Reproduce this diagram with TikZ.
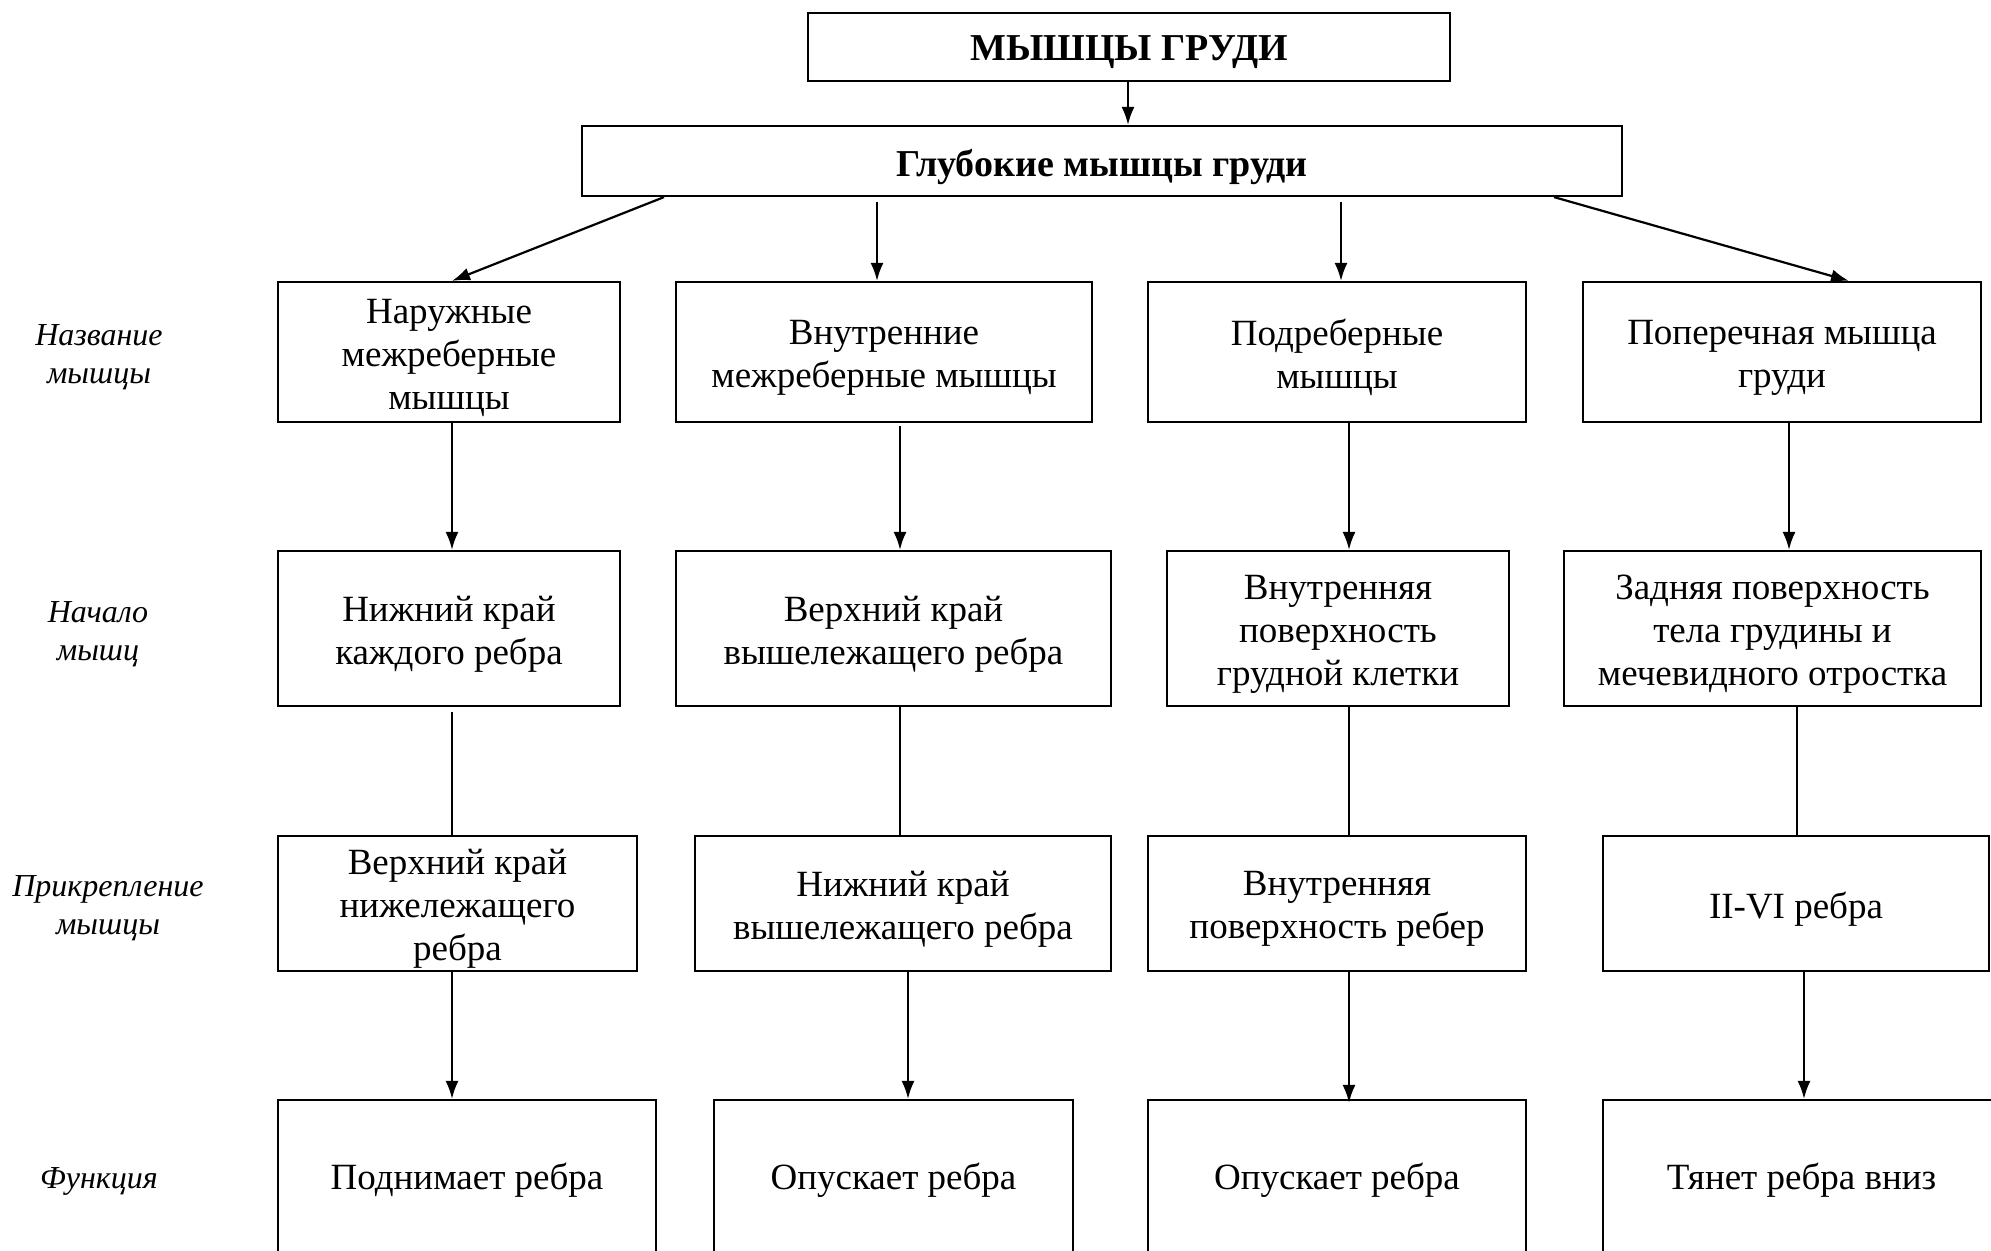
\documentclass[tikz,border=0pt]{standalone}
\usepackage{fontspec}
\setmainfont{Liberation Serif}
\usetikzlibrary{arrows.meta}

\tikzset{
  cell/.style={draw, line width=1.1pt, inner sep=0pt},
  txt/.style={align=center, inner sep=0pt, yshift=-2.8pt,
    font=\fontsize{18.5pt}{21.5pt}\selectfont},
  lowtxt/.style={txt, yshift=1.5pt},
  titletxt/.style={txt, font=\fontsize{19pt}{22pt}\selectfont\bfseries},
  rowlabel/.style={align=center, inner sep=0pt,
    font=\fontsize{16pt}{19pt}\selectfont\itshape},
  arr/.style={line width=1.1pt, -{Latex[length=9pt,width=6.5pt]}},
  link/.style={line width=0.8pt},
  wd/.style={minimum width=#1pt},
  ht/.style={minimum height=#1pt}
}

\begin{document}
\begin{tikzpicture}[x=0.5pt, y=-0.5pt]
  \useasboundingbox (0,0) rectangle (1991,1250);
  \clip (0,0) rectangle (1991,1250);

  % headings
  \node[cell, wd=321, ht=34, label={[titletxt]center:МЫШЦЫ ГРУДИ}] (top) at (1129,47) {};
  \node[cell, wd=520, ht=35, label={[titletxt]center:Глубокие мышцы груди}] (deep) at (1102,161) {};

  % row 1: muscle names
  \node[cell, wd=171, ht=70, label={[txt]center:{Наружные\\межреберные\\мышцы}}] (a1) at (449,352) {};
  \node[cell, wd=208, ht=70, label={[txt]center:{Внутренние\\межреберные мышцы}}] (b1) at (884,352) {};
  \node[cell, wd=189, ht=70, label={[txt]center:{Подреберные\\мышцы}}] (c1) at (1337,352) {};
  \node[cell, wd=199, ht=70, label={[txt]center:{Поперечная мышца\\груди}}] (d1) at (1782,352) {};

  % row 2: origin
  \node[cell, wd=171, ht=77.5, label={[txt]center:{Нижний край\\каждого ребра}}] (a2) at (449,628.5) {};
  \node[cell, wd=217.5, ht=77.5, label={[txt]center:{Верхний край\\вышележащего ребра}}] (b2) at (893.5,628.5) {};
  \node[cell, wd=171, ht=77.5, label={[txt]center:{Внутренняя\\поверхность\\грудной клетки}}] (c2) at (1338,628.5) {};
  \node[cell, wd=208.5, ht=77.5, label={[txt]center:{Задняя поверхность\\тела грудины и\\мечевидного отростка}}] (d2) at (1772.5,628.5) {};

  % row 3: insertion
  \node[cell, wd=179.5, ht=67.5, label={[txt]center:{Верхний край\\нижележащего\\ребра}}] (a3) at (457.5,903.5) {};
  \node[cell, wd=208, ht=67.5, label={[txt]center:{Нижний край\\вышележащего ребра}}] (b3) at (903,903.5) {};
  \node[cell, wd=189, ht=67.5, label={[txt]center:{Внутренняя\\поверхность ребер}}] (c3) at (1337,903.5) {};
  \node[cell, wd=193, ht=67.5, label={[txt]center:{II-VI ребра}}] (d3) at (1796,903.5) {};

  % row 4: function
  \node[cell, wd=189, ht=78, label={[lowtxt]center:{Поднимает ребра}}] (a4) at (467,1178) {};
  \node[cell, wd=179.5, ht=78, label={[lowtxt]center:{Опускает ребра}}] (b4) at (893.5,1178) {};
  \node[cell, wd=189, ht=78, label={[lowtxt]center:{Опускает ребра}}] (c4) at (1337,1178) {};
  \node[cell, wd=198.5, ht=78, label={[lowtxt]center:{Тянет ребра вниз}}] (d4) at (1801.5,1178) {};

  % row labels
  \node[rowlabel] (l1) at (99,357)  {Название\\мышцы};
  \node[rowlabel] (l2) at (98,634)  {Начало\\мышц};
  \node[rowlabel] (l3) at (108,908) {Прикрепление\\мышцы};
  \node[rowlabel] (l4) at (99,1181) {Функция};

  % connector columns
  \coordinate (xt) at (1128,0);
  \coordinate (xa) at (452,0);
  \coordinate (xb0) at (877,0);
  \coordinate (xb1) at (900,0);
  \coordinate (xb3) at (908,0);
  \coordinate (xc0) at (1341,0);
  \coordinate (xc1) at (1349,0);
  \coordinate (xd0) at (1554,0);
  \coordinate (xd1) at (1789,0);
  \coordinate (xd2) at (1797,0);
  \coordinate (xd3) at (1804,0);
  \coordinate (xa0) at (664,0);
  \coordinate (xdt) at (1849,0);

  % heading to group
  \draw[arr] (top.south -| xt) -- (deep.north -| xt);

  % group to muscle names
  \draw[arr] (deep.south -| xa0) -- (a1.north -| xa);
  \draw[arr] ([yshift=-2.5pt]deep.south -| xb0) -- (b1.north -| xb0);
  \draw[arr] ([yshift=-2.5pt]deep.south -| xc0) -- (c1.north -| xc0);
  \draw[arr] (deep.south -| xd0) -- (d1.north -| xdt);

  % names to origins
  \draw[arr] (a1.south -| xa) -- (a2.north -| xa);
  \draw[arr] ([yshift=-1.5pt]b1.south -| xb1) -- (b2.north -| xb1);
  \draw[arr] (c1.south -| xc1) -- (c2.north -| xc1);
  \draw[arr] (d1.south -| xd1) -- (d2.north -| xd1);

  % origins to insertions
  \draw[link] ([yshift=-2.5pt]a2.south -| xa) -- (a3.north -| xa);
  \draw[link] (b2.south -| xb1) -- (b3.north -| xb1);
  \draw[link] (c2.south -| xc1) -- (c3.north -| xc1);
  \draw[link] (d2.south -| xd2) -- (d3.north -| xd2);

  % insertions to functions
  \draw[arr] (a3.south -| xa) -- (a4.north -| xa);
  \draw[arr] (b3.south -| xb3) -- (b4.north -| xb3);
  \draw[arr] (c3.south -| xc1) -- ([yshift=-2pt]c4.north -| xc1);
  \draw[arr] (d3.south -| xd3) -- (d4.north -| xd3);
\end{tikzpicture}
\end{document}
